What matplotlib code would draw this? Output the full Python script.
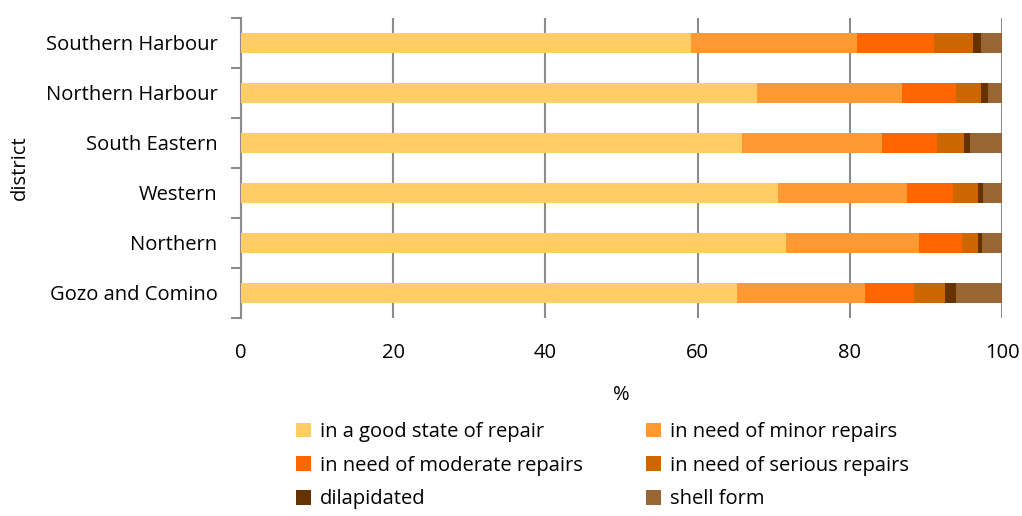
import numpy as np
import matplotlib
matplotlib.use("Agg")
from matplotlib import pyplot
from matplotlib.patches import Patch

districts = ["Southern Harbour", "Northern Harbour", "South Eastern", "Western", "Northern", "Gozo and Comino"]
states = ["in a good state of repair", "in need of minor repairs", "in need of moderate repairs",
          "in need of serious repairs", "dilapidated", "shell form"]
good     = [59.1, 67.8, 65.9, 70.5, 71.6, 65.2]
minor    = [21.9, 19.1, 18.3, 17.0, 17.5, 16.8]
moderate = [10.1, 7.1, 7.3, 6.1, 5.7, 6.4]
serious  = [5.1, 3.3, 3.5, 3.2, 2.0, 4.1]
dilap    = [1.0, 0.8, 0.8, 0.7, 0.6, 1.4]
shell    = [2.8, 1.9, 4.2, 2.5, 2.6, 6.1]
colors = ["#FFCC66", "#FF9933", "#FF6600", "#CC6600", "#663300", "#996633"]

pyplot.rcParams['font.family'] = ['Open Sans', 'DejaVu Sans']
fs = 14.5

fig = pyplot.figure(figsize=(10.22, 5.16), dpi=100)
ax = fig.add_axes([241/1022, 1-318/516, 761/1022, 300/516])

y = np.arange(len(districts))[::-1]
left = np.zeros(len(districts))
for vals, c in zip([good, minor, moderate, serious, dilap, shell], colors):
    ax.barh(y, vals, left=left, height=0.4, color=c, zorder=3)
    left += np.array(vals)

ax.set_xlim(0, 100)
ax.set_ylim(-0.5, len(districts)-0.5)
ax.set_xticks([0, 20, 40, 60, 80, 100])
ax.set_yticks(y)
ax.set_yticklabels(districts, fontsize=fs)
ax.set_yticks(np.arange(-0.5, len(districts), 1.0), minor=True)
ax.tick_params(axis='y', which='major', length=0, pad=17)
ax.tick_params(axis='y', which='minor', length=7, color='#8c8c8c', width=1.5, direction='out')
ax.tick_params(axis='x', length=0, labelsize=fs, pad=18)
ax.grid(axis='x', color='#8c8c8c', linewidth=1.5, zorder=0)
for s in ['top', 'right', 'bottom']:
    ax.spines[s].set_visible(False)
ax.spines['left'].set_color('#8c8c8c')
ax.spines['left'].set_linewidth(1.5)
ax.set_xlabel('%', fontsize=fs)
ax.xaxis.set_label_coords(0.5, -(385-318)/300)
ax.set_ylabel('district', fontsize=fs)
ax.yaxis.set_label_coords(-(241-30)/761, 0.5)

# legend is filled row by row in the reference
order = [0, 2, 4, 1, 3, 5]
handles = [Patch(facecolor=colors[i], edgecolor='none') for i in order]
labels = [states[i] for i in order]
fig.legend(handles, labels, ncol=2, loc='upper left', bbox_to_anchor=(288/1022, 1-414/516),
           frameon=False, fontsize=fs, handlelength=0.75, handleheight=0.75, handletextpad=0.45,
           columnspacing=3.1, labelspacing=0.68, borderaxespad=0)

fig.savefig('out.png', dpi=100)
